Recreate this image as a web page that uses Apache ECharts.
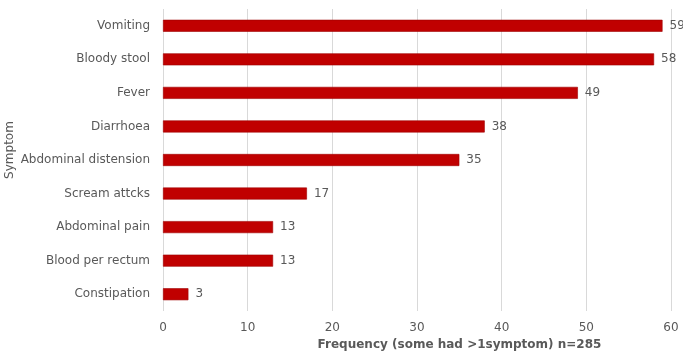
<!DOCTYPE html>
<html>
<head>
<meta charset="utf-8">
<script src="https://cdn.jsdelivr.net/npm/echarts@6/dist/echarts.min.js"></script>
<style>
  html, body { margin: 0; padding: 0; background: #fff; }
  #chart { width: 683px; height: 356px; }
</style>
</head>
<body>
<div id="chart"></div>
<script>
// Symptom frequencies, listed top to bottom
const symptoms = ['Vomiting', 'Bloody stool', 'Fever', 'Diarrhoea', 'Abdominal distension',
  'Scream attcks', 'Abdominal pain', 'Blood per rectum', 'Constipation'];
const frequency = [59, 58, 49, 38, 35, 17, 13, 13, 3];
const xTicks = [0, 10, 20, 30, 40, 50, 60];

const chart = echarts.init(document.getElementById('chart'));
const font = 'DejaVu Sans';

chart.setOption({
  animation: false,
  grid: { left: 163, right: 12, top: 9, bottom: 45, containLabel: false, outerBoundsMode: 'none' },
  xAxis: {
    type: 'value',
    min: xTicks[0],
    max: xTicks[xTicks.length - 1],
    interval: 10,
    axisLine: { show: false },
    axisTick: { show: false },
    axisLabel: { color: '#595959', fontFamily: font, fontSize: 12, margin: 11 },
    splitLine: { show: true, lineStyle: { color: '#d9d9d9', width: 1 } },
    name: 'Frequency (some had >1symptom) n=285',
    nameLocation: 'middle',
    nameMoveOverlap: false,
    nameGap: 28,
    nameTextStyle: { color: '#595959', fontFamily: font, fontSize: 12, fontWeight: 'bold', padding: [0, 0, 0, 85] }
  },
  yAxis: {
    type: 'category',
    data: symptoms,
    inverse: true,
    axisLine: { show: false },
    axisTick: { show: false },
    axisLabel: { color: '#595959', fontFamily: font, fontSize: 12, margin: 13 },
    name: 'Symptom',
    nameLocation: 'middle',
    nameMoveOverlap: false,
    nameGap: 147,
    nameRotate: 90,
    nameTextStyle: { color: '#595959', fontFamily: font, fontSize: 12, padding: [0, 0, 0, 20] }
  },
  series: [{
    type: 'bar',
    data: frequency,
    barWidth: 12,
    itemStyle: { color: '#c00000', borderColor: '#a00000', borderWidth: 0.6 },
    label: { show: true, position: 'right', distance: 7, color: '#595959', fontFamily: font, fontSize: 12 }
  }]
});
</script>
</body>
</html>
